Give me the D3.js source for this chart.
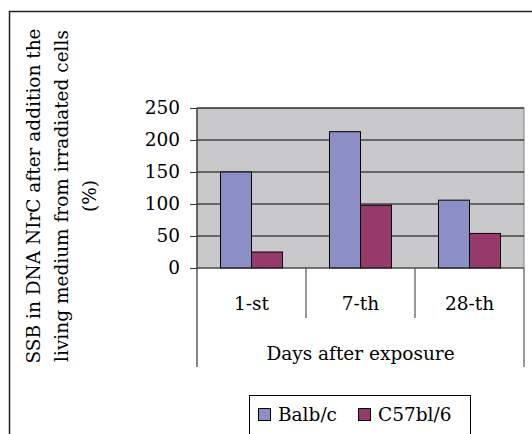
<!DOCTYPE html>
<html><head><meta charset="utf-8">
<script src="https://cdn.jsdelivr.net/npm/d3@7/dist/d3.min.js"></script>
<style>
html,body{margin:0;padding:0;background:#fff;}
svg{display:block;}
text{font-family:"DejaVu Serif","Liberation Serif",serif;fill:#000;}
</style></head>
<body>
<svg id="chart" width="532" height="434"></svg>
<script>
const categories = ["1-st", "7-th", "28-th"];
const seriesNames = ["Balb/c", "C57bl/6"];
const balbValues = [150, 213, 106];
const c57Values = [25, 98, 54];
const yTicks = [0, 50, 100, 150, 200, 250];
const yTitleLines = ["SSB in DNA NIrC after addition the", "living medium from irradiated cells", "(%)"];
const xTitle = "Days after exposure";
const colors = ["#8c8ec6", "#963a6b"];

const svg = d3.select("#chart");
const FS = 18.5;
const L = 197, R = 524, T = 108, B = 268;

const x0 = d3.scaleBand().domain(categories).range([L, R]).padding(0);
const groupW = 62;
const x1 = d3.scaleBand().domain(seriesNames).range([0, groupW]).padding(0);
const y = d3.scaleLinear().domain([0, 250]).range([B, T]);

// outer frame (top and left)
svg.append("path").attr("d", `M9.5,434 V11.5 H532`).attr("fill", "none")
  .attr("stroke", "#222").attr("stroke-width", 1.5);

// plot background
svg.append("rect").attr("x", L).attr("y", T).attr("width", R - L).attr("height", B - T)
  .attr("fill", "#c9c9cb").attr("stroke", "#808080").attr("stroke-width", 1);

// gridlines
svg.append("g").selectAll("line").data(yTicks.filter(d => d > 0)).join("line")
  .attr("x1", L).attr("x2", R).attr("y1", d => y(d)).attr("y2", d => y(d))
  .attr("stroke", "#000").attr("stroke-width", 1);

// y axis via d3
const yAxis = d3.axisLeft(y).tickValues(yTicks).tickSize(7).tickPadding(10);
const gy = svg.append("g").attr("transform", `translate(${L},0)`).call(yAxis);
gy.select(".domain").remove();
gy.selectAll(".tick line").attr("stroke", "#333");
gy.selectAll(".tick text").attr("font-size", FS).attr("font-family", "DejaVu Serif").attr("fill", "#000");

// bars
const data = categories.map((c, i) => ({c, vals: [balbValues[i], c57Values[i]]}));
const pad = (x0.bandwidth() - groupW) / 2;
const groups = svg.append("g").selectAll("g").data(data).join("g")
  .attr("transform", d => `translate(${x0(d.c) + pad},0)`);
groups.selectAll("rect").data(d => d.vals.map((v, j) => ({s: seriesNames[j], v, j}))).join("rect")
  .attr("x", d => x1(d.s)).attr("width", x1.bandwidth())
  .attr("y", d => y(d.v)).attr("height", d => y(0) - y(d.v))
  .attr("fill", d => colors[d.j]).attr("stroke", "#000").attr("stroke-width", 1);

// axis lines
svg.append("line").attr("x1", L).attr("x2", L).attr("y1", T).attr("y2", 367).attr("stroke", "#333").attr("stroke-width", 1.2);
svg.append("line").attr("x1", L).attr("x2", R).attr("y1", B).attr("y2", B).attr("stroke", "#333").attr("stroke-width", 1.2);
svg.append("line").attr("x1", R).attr("x2", R).attr("y1", B).attr("y2", 367).attr("stroke", "#555").attr("stroke-width", 1.2);
// category dividers
svg.append("g").selectAll("line").data(categories.slice(1)).join("line")
  .attr("x1", d => x0(d)).attr("x2", d => x0(d)).attr("y1", B).attr("y2", 318)
  .attr("stroke", "#555").attr("stroke-width", 1.2);

// category labels
svg.append("g").selectAll("text").data(categories).join("text")
  .attr("x", d => x0(d) + x0.bandwidth() / 2).attr("y", 310)
  .attr("text-anchor", "middle").attr("font-size", FS).text(d => d);

// x title
svg.append("text").attr("x", (L + R) / 2).attr("y", 360).attr("text-anchor", "middle")
  .attr("font-size", FS).text(xTitle);

// y title
const yt = [40, 68, 96];
yTitleLines.forEach((t, i) => {
  svg.append("text").attr("transform", `translate(${yt[i]},196) rotate(-90)`)
    .attr("text-anchor", "middle").attr("font-size", FS).text(t);
});

// legend
const lg = svg.append("g");
lg.append("rect").attr("x", 249.5).attr("y", 395.5).attr("width", 221).attr("height", 40)
  .attr("fill", "#fff").attr("stroke", "#000").attr("stroke-width", 1);
const lx = [258, 358];
seriesNames.forEach((s, i) => {
  lg.append("rect").attr("x", lx[i] + 0.5).attr("y", 408.5).attr("width", 12).attr("height", 12)
    .attr("fill", colors[i]).attr("stroke", "#000").attr("stroke-width", 1);
  lg.append("text").attr("x", lx[i] + 20).attr("y", 421).attr("font-size", FS).text(s);
});
</script>
</body></html>
